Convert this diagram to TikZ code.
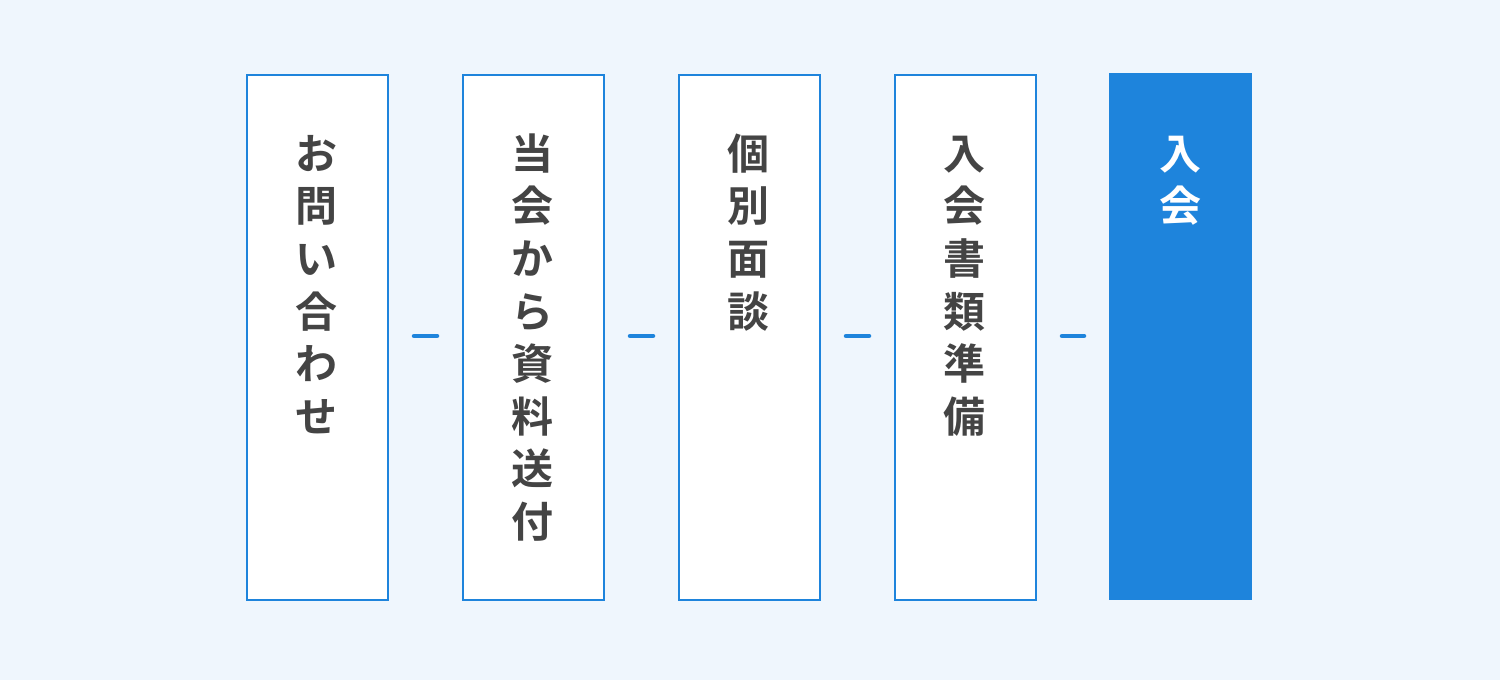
\documentclass[tikz,border=0pt]{standalone}
\usepackage{fontspec}
\newfontfamily\jpfont{Noto Sans CJK JP}[BoldFont={* Bold}]
\definecolor{bgc}{HTML}{EFF6FD}
\definecolor{blu}{HTML}{1E84DC}
\definecolor{txt}{HTML}{444444}
\tikzset{
  stepbox/.style={draw=blu, line width=2pt, fill=white, minimum width=141pt, minimum height=525pt, inner sep=0pt, anchor=north west},
  lastbox/.style={fill=blu, minimum width=143pt, minimum height=527pt, inner sep=0pt, anchor=north west},
  steplabel/.style={anchor=north, inner sep=0pt, align=center, text=txt, font=\jpfont\bfseries\fontsize{42}{52.6}\selectfont},
  link/.style={draw=blu, line width=4.5pt, line cap=round, shorten >=25pt, shorten <=25pt}
}
\begin{document}
\begin{tikzpicture}[x=1pt,y=1pt]
\fill[bgc] (0,0) rectangle (1500,680);
\useasboundingbox (0,0) rectangle (1500,680);
\node[stepbox] (b1) at (246,606) {};
\node[stepbox] (b2) at (462,606) {};
\node[stepbox] (b3) at (678,606) {};
\node[stepbox] (b4) at (894,606) {};
\node[lastbox] (b5) at (1109,607) {};
\node[steplabel] (t1) at (316,547.8) {\strut お\\問\\い\\合\\わ\\せ};
\node[steplabel] (t2) at (532,547.8) {\strut 当\\会\\か\\ら\\資\\料\\送\\付};
\node[steplabel] (t3) at (748,547.8) {\strut 個\\別\\面\\談};
\node[steplabel] (t4) at (964,547.8) {\strut 入\\会\\書\\類\\準\\備};
\node[steplabel, text=white] (t5) at (1180.5,547.8) {\strut 入\\会};
\coordinate (m1a) at (b1.east |- 0,344);
\coordinate (m1b) at (b2.west |- 0,344);
\coordinate (m2a) at (b2.east |- 0,344);
\coordinate (m2b) at (b3.west |- 0,344);
\coordinate (m3a) at (b3.east |- 0,344);
\coordinate (m3b) at (b4.west |- 0,344);
\coordinate (m4a) at (b4.east |- 0,344);
\coordinate (m4b) at (b5.west |- 0,344);
\draw[link] (m1a) -- (m1b);
\draw[link] (m2a) -- (m2b);
\draw[link] (m3a) -- (m3b);
\draw[link] (m4a) -- (m4b);
\end{tikzpicture}
\end{document}
